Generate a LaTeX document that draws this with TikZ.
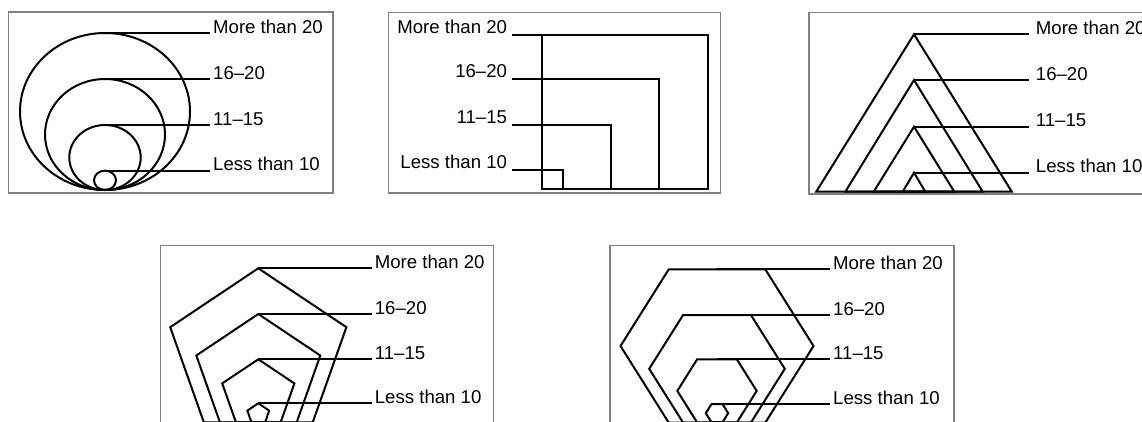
\documentclass[tikz,border=0pt]{standalone}
\usepackage{fontspec}
\setmainfont{Liberation Sans}
\tikzset{
    % Panels and shapes
    panel/.style   = {draw=black!50, line width=1.2pt},
    outline/.style = {draw=black, line width=2pt, line join=miter},
    % Leaders and labels
    leader/.style   = {draw=black, line width=2pt},
    tagright/.style = {anchor=base west, inner xsep=3pt, inner ysep=0pt, font=\fontsize{18.6}{22}\selectfont},
    tagleft/.style  = {tagright, anchor=base east, inner xsep=4.5pt},
    tagwide/.style  = {tagright, inner xsep=6.4pt}
}

\begin{document}
\begin{tikzpicture}[x=1pt, y=-1pt]
    \clip (0,0) rectangle (1142,421);
    \fill [white] (0,0) rectangle (1142,421);

    % Circles
    \draw [panel] (8.5,12) rectangle (333,193);
    \draw [outline] (105,111.5) ellipse [x radius=85, y radius=78.5];
    \draw [outline] (105,134.5) ellipse [x radius=60, y radius=55.5];
    \draw [outline] (105,157.5) ellipse [x radius=35.7, y radius=32.5];
    \draw [outline] (105,180.3) ellipse [x radius=11, y radius=9.7];
    \coordinate (ring1) at (105,33);
    \coordinate (ring2) at (105,79);
    \coordinate (ring3) at (105,125);
    \coordinate (ring4) at (105,170.6);
    \node (ringlab1) [tagright] at (210,33) {More than 20};
    \node (ringlab2) [tagright] at (210,79) {16--20};
    \node (ringlab3) [tagright] at (210,125) {11--15};
    \node (ringlab4) [tagright] at (210,170.6) {Less than 10};
    \draw [leader] (ring1) -- (ringlab1.base west);
    \draw [leader] (ring2) -- (ringlab2.base west);
    \draw [leader] (ring3) -- (ringlab3.base west);
    \draw [leader] (ring4) -- (ringlab4.base west);

    % Squares
    \draw [panel] (388.3,12.3) rectangle (720.7,192.7);
    \draw [panel, line width=2pt] (388.3,192.7) -- (720.7,192.7);
    \draw [outline] (541.7,189.3) rectangle (708.3,35);
    \draw [outline] (541.7,189.3) rectangle (659.3,79.3);
    \draw [outline] (541.7,189.3) rectangle (611,125);
    \draw [outline] (541.7,189.3) rectangle (562.7,170);
    \coordinate (box1) at (541.7,35);
    \coordinate (box2) at (541.7,79.3);
    \coordinate (box3) at (541.7,125);
    \coordinate (box4) at (541.7,170);
    \node (boxlab1) [tagleft] at (511.7,33.5) {More than 20};
    \node (boxlab2) [tagleft] at (511.7,77.8) {16--20};
    \node (boxlab3) [tagleft] at (511.7,123.5) {11--15};
    \node (boxlab4) [tagleft] at (511.7,168.5) {Less than 10};
    \draw [leader] (box1) -- (box1 -| boxlab1.base east);
    \draw [leader] (box2) -- (box2 -| boxlab2.base east);
    \draw [leader] (box3) -- (box3 -| boxlab3.base east);
    \draw [leader] (box4) -- (box4 -| boxlab4.base east);

    % Triangles
    \draw [panel] (809,12.3) rectangle (1160,194);
    \draw [outline] (816.2,191.7) -- (914,34.3) -- (1011.8,191.7) -- cycle;
    \draw [outline] (845.3,191.7) -- (914,80) -- (982.7,191.7) -- cycle;
    \draw [outline] (873.7,191.7) -- (914,126.7) -- (954.3,191.7) -- cycle;
    \draw [outline] (902.7,191.7) -- (914,172.7) -- (925.3,191.7) -- cycle;
    \coordinate (peak1) at (914,34.3);
    \coordinate (peak2) at (914,80);
    \coordinate (peak3) at (914,126.7);
    \coordinate (peak4) at (914,172.7);
    \node (peaklab1) [tagwide] at (1029.3,34.3) {More than 20};
    \node (peaklab2) [tagwide] at (1029.3,80) {16--20};
    \node (peaklab3) [tagwide] at (1029.3,126.7) {11--15};
    \node (peaklab4) [tagwide] at (1029.3,172.7) {Less than 10};
    \draw [leader] (peak1) -- (peaklab1.base west);
    \draw [leader] (peak2) -- (peaklab2.base west);
    \draw [leader] (peak3) -- (peaklab3.base west);
    \draw [leader] (peak4) -- (peaklab4.base west);

    % Pentagons
    \draw [panel] (160.7,245.5) rectangle (493.3,440);
    \draw [outline] (258.3,268.3) -- (170.2,327.2) -- (203.9,422.4) -- (312.7,422.4) -- (346.4,327.2) -- cycle;
    \draw [outline] (258.3,314) -- (196.3,355.5) -- (220,422.5) -- (296.6,422.5) -- (320.3,355.5) -- cycle;
    \draw [outline] (258.3,359.3) -- (222.2,383.4) -- (236,422.4) -- (280.6,422.4) -- (294.4,383.4) -- cycle;
    \draw [outline] (258.3,403.3) -- (247.4,410.6) -- (251.5,422.5) -- (265.1,422.5) -- (269.2,410.6) -- cycle;
    \coordinate (penta1) at (258.3,268.3);
    \coordinate (penta2) at (258.3,314);
    \coordinate (penta3) at (258.3,359.3);
    \coordinate (penta4) at (258.3,403.3);
    \node (pentalab1) [tagright] at (371.7,268.3) {More than 20};
    \node (pentalab2) [tagright] at (371.7,314) {16--20};
    \node (pentalab3) [tagright] at (371.7,359.3) {11--15};
    \node (pentalab4) [tagright] at (371.7,403.3) {Less than 10};
    \draw [leader] (penta1) -- (pentalab1.base west);
    \draw [leader] (penta2) -- (pentalab2.base west);
    \draw [leader] (penta3) -- (pentalab3.base west);
    \draw [leader] (penta4) -- (pentalab4.base west);

    % Hexagons
    \draw [panel] (610,245.7) rectangle (954,440);
    \draw [outline] (620.5,346) -- (668.75,269.3) -- (765.25,269.3) -- (813.5,346) -- (765.25,422.7) -- (668.75,422.7) -- cycle;
    \draw [outline] (649.2,368.8) -- (683.1,315) -- (750.9,315) -- (784.8,368.8) -- (750.9,422.6) -- (683.1,422.6) -- cycle;
    \draw [outline] (677.3,390.9) -- (697.15,359.3) -- (736.85,359.3) -- (756.7,390.9) -- (736.85,422.5) -- (697.15,422.5) -- cycle;
    \draw [outline] (705.8,413.2) -- (711.4,404.2) -- (722.6,404.2) -- (728.2,413.2) -- (722.6,422.2) -- (711.4,422.2) -- cycle;
    \coordinate (hexa1) at (717,269.3);
    \coordinate (hexa2) at (717,315);
    \coordinate (hexa3) at (717,359.3);
    \coordinate (hexa4) at (717,404.2);
    \node (hexalab1) [tagright] at (830,269.3) {More than 20};
    \node (hexalab2) [tagright] at (830,315) {16--20};
    \node (hexalab3) [tagright] at (830,359.3) {11--15};
    \node (hexalab4) [tagright] at (830,404.2) {Less than 10};
    \draw [leader] (hexa1) -- (hexalab1.base west);
    \draw [leader] (hexa2) -- (hexalab2.base west);
    \draw [leader] (hexa3) -- (hexalab3.base west);
    \draw [leader] (hexa4) -- (hexalab4.base west);
\end{tikzpicture}
\end{document}
